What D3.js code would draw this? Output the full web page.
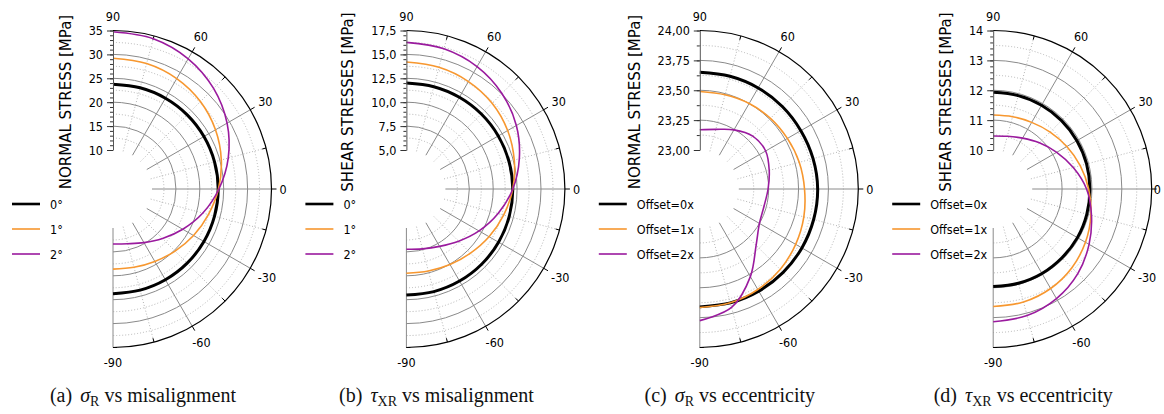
<!DOCTYPE html>
<html>
<head>
<meta charset="utf-8">
<title>Polar stress plots</title>
<script src="https://d3js.org/d3.v7.min.js"></script>
<style>
body { margin: 0; background: #fff; }
.cond { font-family: "DejaVu Sans Condensed", "Liberation Sans Narrow", "DejaVu Sans", sans-serif; font-stretch: condensed; }
.wide { font-family: "DejaVu Sans", sans-serif; }
.caption { font-family: "Liberation Serif", "DejaVu Serif", serif; font-size: 20px; fill: #111; }
</style>
</head>
<body>
<svg id="chart" width="1164" height="414"></svg>
<script>

var angles = [90, 75, 60, 45, 30, 15, 0, -15, -30, -45, -60, -75, -90];

var misNames = ["0°", "1°", "2°"];
var eccNames = ["Offset=0x", "Offset=1x", "Offset=2x"];

// (a) normal stress vs misalignment
var sigmaMis0 = [23.75, 23.76, 23.77, 23.79, 23.81, 23.83, 23.85, 23.83, 23.81, 23.79, 23.77, 23.75, 23.74];
var sigmaMis1 = [29.2, 29.0, 28.5, 27.7, 26.6, 25.3, 23.9, 22.5, 21.3, 20.2, 19.35, 18.8, 18.6];
var sigmaMis2 = [34.75, 34.4, 33.3, 31.6, 29.4, 26.8, 24.0, 21.3, 18.7, 16.5, 14.8, 13.7, 13.35];

// (b) shear stress vs misalignment
var tauMis0 = [12.0, 12.0, 12.0, 12.01, 12.02, 12.03, 12.05, 12.05, 12.05, 12.05, 12.04, 12.03, 12.02];
var tauMis1 = [14.2, 14.1, 13.9, 13.6, 13.15, 12.6, 12.05, 11.45, 10.9, 10.4, 10.05, 9.8, 9.74];
var tauMis2 = [16.26, 16.1, 15.7, 15.05, 14.2, 13.15, 12.05, 10.85, 9.7, 8.65, 7.85, 7.4, 7.23];

// (c) normal stress vs eccentricity
var sigmaEcc0 = [23.65, 23.65, 23.65, 23.65, 23.65, 23.655, 23.66, 23.66, 23.66, 23.66, 23.66, 23.66, 23.66];
var sigmaEcc1 = [23.49, 23.49, 23.50, 23.51, 23.52, 23.535, 23.55, 23.575, 23.60, 23.625, 23.645, 23.66, 23.665];
var sigmaEcc2 = [23.17, 23.19, 23.245, 23.30, 23.31, 23.275, 23.245, 23.23, 23.25, 23.34, 23.52, 23.70, 23.775];

// (d) shear stress vs eccentricity
var tauEcc0 = [11.93, 11.93, 11.93, 11.93, 11.93, 11.93, 11.93, 11.94, 11.95, 11.95, 11.96, 11.96, 11.96];
var tauEcc1 = [11.17, 11.2, 11.27, 11.39, 11.54, 11.71, 11.89, 12.08, 12.26, 12.42, 12.54, 12.61, 12.63];
var tauEcc2 = [10.47, 10.52, 10.66, 10.88, 11.15, 11.47, 11.82, 12.1, 12.4, 12.7, 12.93, 13.08, 13.14];

// radial axis ticks and labels
var ticksA = [10, 15, 20, 25, 30, 35];
var labelsA = ["10", "15", "20", "25", "30", "35"];
var ticksB = [5, 7.5, 10, 12.5, 15, 17.5];
var labelsB = ["5,0", "7,5", "10,0", "12,5", "15,0", "17,5"];
var ticksC = [23, 23.25, 23.5, 23.75, 24];
var labelsC = ["23,00", "23,25", "23,50", "23,75", "24,00"];
var ticksD = [10, 11, 12, 13, 14];
var labelsD = ["10", "11", "12", "13", "14"];

var angleTicks = [90, 60, 30, 0, -30, -60, -90];
var angleLabels = ["90", "60", "30", "0", "-30", "-60", "-90"];

var colors = ["#000000", "#f7972f", "#9a1a9e"];
var widths = [3, 1.6, 1.6];

var panels = [
  {title: "NORMAL STRESS [MPa]", ticks: ticksA, labels: labelsA, minor: 1, names: misNames,
   series: [sigmaMis0, sigmaMis1, sigmaMis2], cap: ["(a)", "σ", "R", "vs misalignment"]},
  {title: "SHEAR STRESSES [MPa]", ticks: ticksB, labels: labelsB, minor: 0.5, names: misNames,
   series: [tauMis0, tauMis1, tauMis2], cap: ["(b)", "τ", "XR", "vs misalignment"]},
  {title: "NORMAL STRESS [MPa]", ticks: ticksC, labels: labelsC, minor: 0.125, names: eccNames,
   series: [sigmaEcc0, sigmaEcc1, sigmaEcc2], cap: ["(c)", "σ", "R", "vs eccentricity"]},
  {title: "SHEAR STRESSES [MPa]", ticks: ticksD, labels: labelsD, minor: 0.2, names: eccNames,
   series: [tauEcc0, tauEcc1, tauEcc2], cap: ["(d)", "τ", "XR", "vs eccentricity"]}
];

var svg = d3.select("#chart");
var cy = 189, r0 = 39, r1 = 158.5;
var rad = Math.PI / 180;

panels.forEach(function(p, i) {
  var cx = 113 + i * 293.4;
  var vmin = p.ticks[0], vmax = p.ticks[p.ticks.length - 1];
  var r = d3.scaleLinear().domain([vmin, vmax]).range([r0, r1]);
  var g = svg.append("g").attr("transform", "translate(" + cx + "," + cy + ")");

  // rings: solid at major ticks, dotted at half steps
  var step = p.ticks[1] - p.ticks[0];
  var halfs = d3.range(vmin + step / 2, vmax, step);
  function half(rr) {
    var pth = d3.path();
    pth.moveTo(0, -rr);
    pth.arc(0, 0, rr, -Math.PI / 2, Math.PI / 2);
    return pth.toString();
  }
  g.selectAll(".dring").data(halfs).join("path")
    .attr("d", function(v) { return half(r(v)); })
    .attr("fill", "none").attr("stroke", "#b5b5b5").attr("stroke-width", 1).attr("stroke-dasharray", "1,2");
  g.selectAll(".sring").data(p.ticks.slice(1, -1)).join("path")
    .attr("d", function(v) { return half(r(v)); })
    .attr("fill", "none").attr("stroke", "#8a8a8a").attr("stroke-width", 1);

  // spokes
  var spokes = d3.range(-90, 76, 15);
  g.selectAll(".spoke").data(spokes).join("line")
    .attr("x1", function(a) { return r0 * Math.cos(a * rad); })
    .attr("y1", function(a) { return -r0 * Math.sin(a * rad); })
    .attr("x2", function(a) { return r1 * Math.cos(a * rad); })
    .attr("y2", function(a) { return -r1 * Math.sin(a * rad); })
    .attr("stroke", function(a) { return a % 30 == 0 ? "#8a8a8a" : "#b5b5b5"; })
    .attr("stroke-width", 1)
    .attr("stroke-dasharray", function(a) { return a % 30 == 0 ? null : "1,2"; });

  // outer arc and its ticks
  g.append("path").attr("d", half(r1)).attr("fill", "none").attr("stroke", "#000").attr("stroke-width", 1.2);
  g.selectAll(".otick").data(d3.range(-75, 76, 15)).join("line")
    .attr("x1", function(a) { return (a % 30 == 0 ? r1 : r1 - 4) * Math.cos(a * rad); })
    .attr("y1", function(a) { return -(a % 30 == 0 ? r1 : r1 - 4) * Math.sin(a * rad); })
    .attr("x2", function(a) { return (a % 30 == 0 ? r1 + 5 : r1) * Math.cos(a * rad); })
    .attr("y2", function(a) { return -(a % 30 == 0 ? r1 + 5 : r1) * Math.sin(a * rad); })
    .attr("stroke", "#000").attr("stroke-width", 1);
  g.append("line").attr("x1", 0).attr("y1", r1).attr("x2", 4).attr("y2", r1).attr("stroke", "#000");

  // angle labels
  g.selectAll(".alab").data(angleTicks).join("text")
    .attr("class", "cond")
    .attr("font-size", 12.5)
    .attr("text-anchor", "middle")
    .attr("dominant-baseline", "central")
    .text(function(a, k) { return angleLabels[k]; })
    .each(function(a) {
      var w = this.getComputedTextLength();
      var off = r1 + 8 + Math.abs(Math.cos(a * rad)) * w / 2 + Math.abs(Math.sin(a * rad)) * 6.5;
      var x = Math.min(off * Math.cos(a * rad), 1161 - cx - w / 2);
      d3.select(this).attr("x", x).attr("y", -off * Math.sin(a * rad));
    });

  // curves
  var line = d3.lineRadial()
    .angle(function(d) { return (90 - d[0]) * rad; })
    .radius(function(d) { return r(d[1]); })
    .curve(d3.curveCatmullRom.alpha(0.5));
  p.series.forEach(function(s, k) {
    g.append("path")
      .datum(angles.map(function(a, j) { return [a, s[j]]; }))
      .attr("d", line)
      .attr("fill", "none")
      .attr("stroke", colors[k])
      .attr("stroke-width", widths[k]);
  });

  // radial axis on the 90 spoke
  var y = d3.scaleLinear().domain([vmin, vmax]).range([cy - r0, cy - r1]);
  var minorTicks = d3.range(vmin, vmax + p.minor / 2, p.minor);
  svg.append("g").attr("transform", "translate(" + cx + ",0)")
    .call(d3.axisLeft(y).tickValues(minorTicks).tickSize(3).tickFormat("").tickSizeOuter(0))
    .call(function(a) { a.select(".domain").remove(); a.selectAll("line").attr("stroke", "#333"); });
  var ax = svg.append("g").attr("transform", "translate(" + cx + ",0)")
    .call(d3.axisLeft(y).tickValues(p.ticks).tickSize(6).tickPadding(4).tickSizeOuter(0)
      .tickFormat(function(v, k) { return p.labels[k]; }));
  ax.attr("font-family", null).attr("font-size", null);
  ax.select(".domain").attr("stroke", "#555");
  ax.selectAll("line").attr("stroke", "#333");
  ax.selectAll("text").attr("class", "cond").attr("font-size", 12.5).attr("fill", "#000");
  var lw = d3.max(ax.selectAll("text").nodes(), function(n) { return n.getComputedTextLength(); });

  // axis title
  var tx = cx - 10 - lw - 23, ty = 102;
  svg.append("text").attr("class", "wide")
    .attr("transform", "translate(" + tx + "," + ty + ") rotate(-90)")
    .attr("text-anchor", "middle").attr("dominant-baseline", "central")
    .attr("font-size", 15)
    .text(p.title);

  // legend
  p.names.forEach(function(n, k) {
    var ly = 204 + k * 25;
    svg.append("line").attr("x1", cx - 101).attr("x2", cx - 73).attr("y1", ly).attr("y2", ly)
      .attr("stroke", colors[k]).attr("stroke-width", k == 0 ? 2.6 : 1.6);
    svg.append("text").attr("class", "cond").attr("x", cx - 63).attr("y", ly)
      .attr("dominant-baseline", "central").attr("font-size", 12.5).text(n);
  });

  // caption
  var c = svg.append("text").attr("class", "caption").attr("x", cx + 30).attr("y", 402).attr("text-anchor", "middle");
  c.append("tspan").text(p.cap[0]);
  c.append("tspan").attr("dx", 8).attr("font-style", "italic").text(p.cap[1]);
  c.append("tspan").attr("dy", 4).attr("font-size", 14).text(p.cap[2]);
  c.append("tspan").attr("dy", -4).attr("dx", 5).text(p.cap[3]);
});

</script>
</body>
</html>
